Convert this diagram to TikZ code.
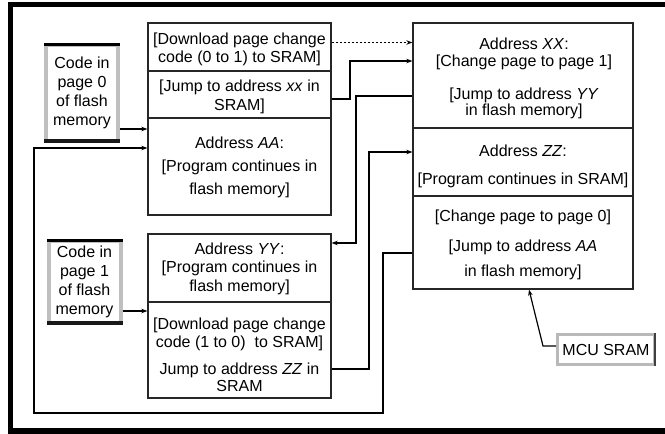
\documentclass[tikz,border=0pt]{standalone}
\usepackage{fontspec}
\setmainfont{Liberation Sans}
\usetikzlibrary{arrows.meta}
\begin{document}
\begin{tikzpicture}[x=1pt,y=-1pt,
  box/.style={draw=black!85,line width=1.3pt,minimum width=183pt,inner sep=0pt,fill=white},
  rbox/.style={draw=black!85,line width=1.3pt,minimum width=220pt,inner sep=0pt,fill=white},
  txt/.style={align=center,inner sep=0pt,font=\fontsize{16}{18}\selectfont},
  codebox/.style={draw=gray!50,fill=white,line width=4pt,minimum width=72pt,minimum height=96pt,inner sep=0pt,align=center,font=\fontsize{16}{19}\selectfont},
  conn/.style={line width=1.7pt,black},
  arr/.style={-{Stealth[length=6pt,width=4.5pt]}}
]
\useasboundingbox (0,0) rectangle (665,434);
\clip (0,0) rectangle (665,434);
\fill[white] (0,0) rectangle (665,434);
% outer frame
\draw[line width=5.5pt] (10.5,4.5) rectangle (720,431);

% left column boxes
\node[box,minimum height=48pt] (A1) at (239.5,47) {};
\node[box,minimum height=47pt] (A2) at (239.5,94.5) {};
\node[box,minimum height=97pt] (A3) at (239.5,166.5) {};
\node[box,minimum height=68pt] (B1) at (239.5,268) {};
\node[box,minimum height=96pt] (B2) at (239.5,350) {};
% right column boxes
\node[rbox,minimum height=105pt] (R1) at (523,75.5) {};
\node[rbox,minimum height=68pt] (R2) at (523,162) {};
\node[rbox,minimum height=93pt] (R3) at (523,242.5) {};

% texts
\node[txt] (tA1) at (239.5,49) {{[}Download page change\\code (0 to 1) to SRAM{]}};
\node[txt,font=\fontsize{16}{19}\selectfont] (tA2) at (239.5,96.5) {{[}Jump to address \textit{xx} in\\SRAM{]}};
\node[txt,font=\fontsize{16}{23}\selectfont] (tA3) at (239.5,167) {Address \textit{AA}:\\{[}Program continues in\\flash memory{]}};
\node[txt,font=\fontsize{16}{18.5}\selectfont] (tB1) at (239.5,268.5) {Address \textit{YY}:\\{[}Program continues in\\flash memory{]}};
\node[txt] (tB2a) at (239.5,334) {{[}Download page change\\code (1 to 0)\ \ to SRAM{]}};
\node[txt,font=\fontsize{16}{17}\selectfont] (tB2b) at (239.5,377.5) {Jump to address \textit{ZZ} in\\SRAM};
\node[txt,font=\fontsize{16}{17.5}\selectfont] (tR1a) at (524,54) {Address \textit{XX}:\\{[}Change page to page 1{]}};
\node[txt,font=\fontsize{16}{16}\selectfont] (tR1b) at (524,103.5) {{[}Jump to address \textit{YY}\\in flash memory{]}};
\node[txt,font=\fontsize{16}{28}\selectfont] (tR2) at (523,166) {Address \textit{ZZ}:\\{[}Program continues in SRAM{]}};
\node[txt] (tR3a) at (523,217) {{[}Change page to page 0{]}};
\node[txt,font=\fontsize{16}{25}\selectfont] (tR3b) at (523,259.5) {{[}Jump to address \textit{AA}\\in flash memory{]}};

% code boxes
\node[codebox] (c0) at (82,93) {Code in\\page 0\\of flash\\memory};
\draw[line width=3pt,black] (c0.north west) ++(0,1.5) -- ++(76,0);
\draw[line width=4pt,black!90] (c0.south west) ++(0,-2) -- ++(76,0);
\node[codebox,minimum height=82pt] (c1) at (84.5,282) {Code in\\page 1\\of flash\\memory};
\draw[line width=3pt,black] (c1.north west) ++(0,1.5) -- ++(76,0);
\draw[line width=4pt,black!90] (c1.south west) ++(0,-2) -- ++(76,0);

% MCU SRAM
\node[draw=gray!55,fill=white,line width=3pt,minimum width=97pt,minimum height=30pt,inner sep=0pt,font=\fontsize{16}{18}\selectfont] (mcu) at (606,349.5) {MCU SRAM};
\draw[line width=2pt,black!75] (mcu.north east) ++(-1,0) -- ++(0,33);

% connectors
\draw[conn,arr] (c0.east |- 0,129) -- (A3.west |- 0,129);
\draw[conn,arr] (c1.east |- 0,311) -- (B2.west |- 0,311);
\draw[conn,arr] ([yshift=-10.5pt]R3.west) -| (383,413) -| (34,148) -- (A3.west |- 0,148);
\draw[line width=1.3pt,dash pattern=on 2pt off 2pt,arr] ([yshift=4.5pt]A1.east) -- (R1.west |- 0,42.5);
\draw[conn,arr] ([yshift=-4.5pt]A2.east) -| (350,61) -- (R1.west |- 0,61);
\draw[conn,arr] ([yshift=-20.5pt]R1.west) -| (356,243) -- (B1.east |- 0,243);
\draw[conn,arr] ([yshift=-19pt]B2.east) -| (369,152) -- (R2.west |- 0,152);
\draw[line width=1.2pt,arr] (mcu.west |- 0,346) -- (543,346) -- ([xshift=6pt]R3.south);
\end{tikzpicture}
\end{document}
